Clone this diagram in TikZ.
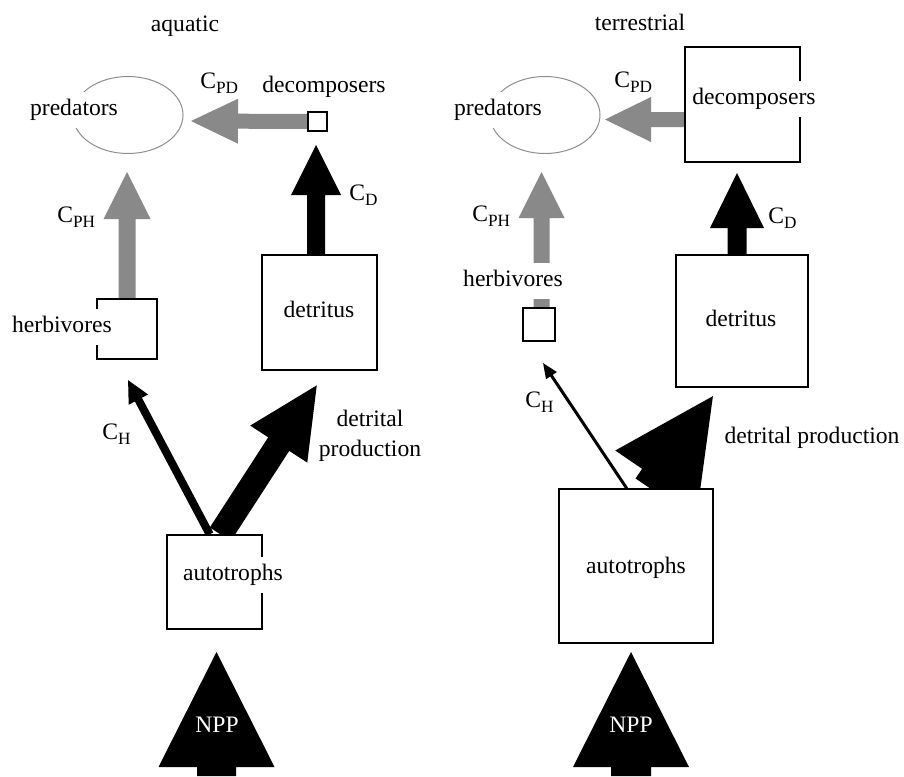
\documentclass[tikz,border=0pt]{standalone}
\usepackage{fontspec}
\setmainfont{Liberation Serif}
\usetikzlibrary{calc,shapes.geometric}
\pgfdeclarelayer{bg}
\pgfsetlayers{bg,main}
\definecolor{flowgray}{RGB}{137,137,137}
\definecolor{ringgray}{RGB}{140,140,140}
\newcommand\Cs[1]{C\raisebox{-2.5pt}{\fontsize{8.6}{9}\selectfont #1}}
% block arrow: #1 fill, #2 start, #3 tip, #4 shaft width (px), #5 head width (px), #6 head length (px)
\newcommand\blockarr[6]{%
  \path (#2) coordinate (bas) (#3) coordinate (bae);
  \pgfpointdiff{\pgfpointanchor{bas}{center}}{\pgfpointanchor{bae}{center}}%
  \pgfgetlastxy{\bax}{\bay}%
  \pgfmathsetmacro\baang{atan2(\bay,\bax)}%
  \pgfmathsetmacro\balen{veclen(\bax,\bay)}%
  \fill[#1, shift={(bas)}, rotate=\baang]
    (0pt,{-#4*0.25pt}) -- ({\balen*1pt-#6*0.5pt},{-#4*0.25pt})
    -- ({\balen*1pt-#6*0.5pt},{-#5*0.25pt}) -- ({\balen*1pt},0pt)
    -- ({\balen*1pt-#6*0.5pt},{#5*0.25pt}) -- ({\balen*1pt-#6*0.5pt},{#4*0.25pt})
    -- (0pt,{#4*0.25pt}) -- cycle;
}
\begin{document}
\begin{tikzpicture}[x=0.5pt,y=-0.5pt,
  txt/.style={font=\fontsize{11.8}{14.5}\selectfont, inner xsep=1pt, inner ysep=3.5pt, text height=8.3pt, text depth=2.6pt},
  mask/.style={txt, fill=white},
  clab/.style={font=\fontsize{11.8}{14.5}\selectfont, inner sep=0pt, anchor=base west},
  box/.style={draw=black, line width=0.7pt, fill=white, inner sep=0pt},
  pool/.style={ellipse, draw=ringgray, line width=0.5pt, inner sep=0pt, minimum width=55pt, minimum height=38.5pt}]
\useasboundingbox (0,0) rectangle (904,776);

% ---------------- aquatic compartments ----------------
\node[pool] (apr) at (128,115) {};
\node[box, minimum width=9.5pt, minimum height=9.5pt] (adc) at (317.5,121.5) {};
\node[box, minimum width=30pt, minimum height=30pt] (ahb) at (127,329) {};
\node[box, minimum width=57.5pt, minimum height=57.5pt] (adt) at (319.5,312.5) {};
\node[box, minimum width=47.5pt, minimum height=47pt] (aau) at (214.5,582) {};
\coordinate (apdT) at (191,121);
\coordinate (acdT) at (316,145);
\coordinate (acphT) at (127,172);
\coordinate (achT) at (128,380);
\coordinate (adpT) at (317,385);
\coordinate (anppT) at (216.5,652);
\coordinate (anppS) at (216.5,776);

% ---------------- terrestrial compartments ----------------
\node[pool] (tpr) at (545,115) {};
\node[box, minimum width=57.5pt, minimum height=57.5pt] (tdc) at (742.5,104.5) {};
\node[box, minimum width=16pt, minimum height=16.5pt] (thb) at (539,324.5) {};
\node[box, minimum width=66pt, minimum height=66pt] (tdt) at (742,321) {};
\node[box, minimum width=77pt, minimum height=77pt] (tau) at (636,566) {};
\coordinate (tpdT) at (605,119.5);
\coordinate (tcdT) at (737,173);
\coordinate (tcphT) at (541.5,172);
\coordinate (tchT) at (543,363);
\coordinate (tdpT) at (713,396);
\coordinate (tnppT) at (631,652);
\coordinate (tnppS) at (631,776);

% ---------------- flows ----------------
\begin{pgfonlayer}{bg}
\blockarr{flowgray}{adc.west}{apdT}{15}{45}{47}
\blockarr{black}{acdT |- adt.north}{acdT}{18}{50}{50}
\blockarr{flowgray}{ahb.north}{acphT}{17}{47}{47}
\blockarr{black}{$(aau.north west)!0.45!(aau.north east)$}{achT}{8}{22}{22}
\blockarr{black}{$(aau.north west)!0.56!(aau.north east)$}{adpT}{25}{68}{70}
\blockarr{black}{anppS}{anppT}{39}{116}{115}

\blockarr{flowgray}{tdc.west |- tpdT}{tpdT}{15}{45}{46}
\blockarr{black}{tcdT |- tdt.north}{tcdT}{19}{54}{55}
\blockarr{flowgray}{tcphT |- thb.north}{tcphT}{16}{46}{46}
\blockarr{black}{$(tau.north west)!0.44!(tau.north east)$}{tchT}{3}{13}{15}
\blockarr{black}{$(tau.north west)!0.59!(tau.north east)$}{tdpT}{35}{100}{100}
\blockarr{black}{tnppS}{tnppT}{40}{116}{115}
\end{pgfonlayer}

% ---------------- aquatic labels ----------------
\node[txt] (aqt) at (185,26) {aquatic};
\node[mask] (aprl) at (74,110) {predators};
\node[txt] (adcl) at (324,87) {decomposers};
\node[clab] (acpd) at (200,88) {\Cs{PD}};
\node[clab] (acd) at (349,200) {\Cs{D}};
\node[clab] (acph) at (57,222) {\Cs{PH}};
\node[mask] (ahbl) at (62,327) {herbivores};
\node[txt] (adtl) at (319,312) {detritus};
\node[clab] (ach) at (102,439) {\Cs{H}};
\node[font=\fontsize{11.8}{15}\selectfont, align=center, inner sep=0pt] (adpl) at (370,436) {detrital\\production};
\node[mask] (aaul) at (233,575) {autotrophs};
\node[txt, text=white] (anpp) at (217,727) {NPP};

% ---------------- terrestrial labels ----------------
\node[txt] (trt) at (640,25) {terrestrial};
\node[mask] (tprl) at (498,110) {predators};
\node[mask] (tdcl) at (754,99) {decomposers};
\node[clab] (tcpd) at (614,87) {\Cs{PD}};
\node[clab] (tcd) at (768,223) {\Cs{D}};
\node[clab] (tcph) at (472,221) {\Cs{PH}};
\node[mask] (thbl) at (513,281) {herbivores};
\node[txt] (tdtl) at (741,321) {detritus};
\node[clab] (tch) at (525,407) {\Cs{H}};
\node[txt] (tdpl) at (812,438) {detrital production};
\node[txt] (taul) at (636,568) {autotrophs};
\node[txt, text=white] (tnpp) at (631,727) {NPP};
\end{tikzpicture}
\end{document}
